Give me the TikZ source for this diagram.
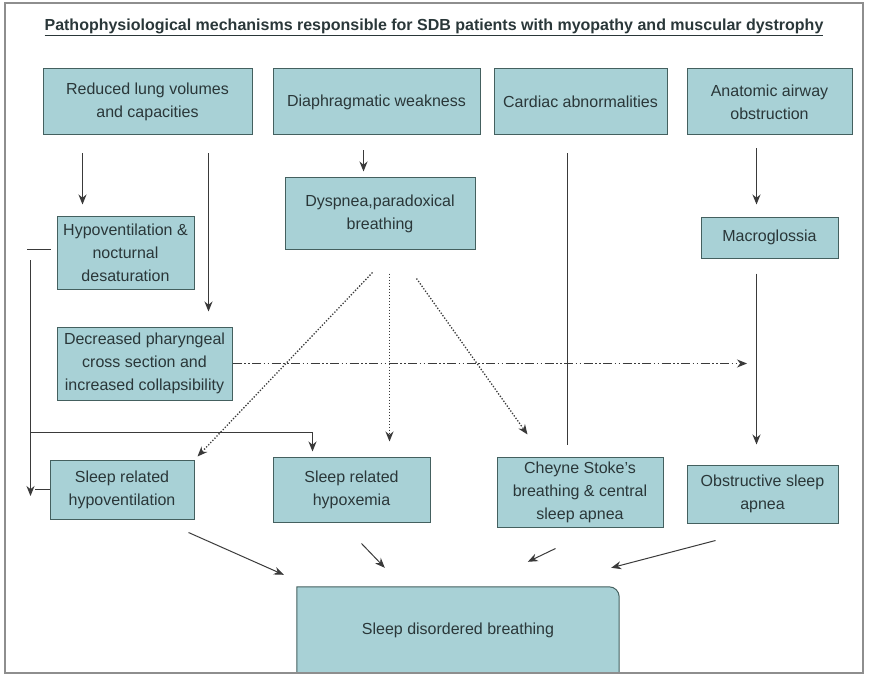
\documentclass[tikz,border=0pt]{standalone}
\usepackage{fontspec}
\setmainfont{Liberation Sans}
\usepackage{tikz}
\usetikzlibrary{arrows.meta,positioning,backgrounds}
\definecolor{boxfill}{HTML}{A8D1D6}
\definecolor{boxline}{HTML}{44605F}
\definecolor{inkline}{HTML}{3A3A3A}
\definecolor{boxtext}{HTML}{2A3739}
\definecolor{framegray}{HTML}{8E8E8E}

\begin{document}
\begin{tikzpicture}[
  x=1pt, y=-1pt,
  font=\fontsize{16}{23}\selectfont,
  box/.style={draw=boxline, fill=boxfill, line width=1pt, align=center,
              inner sep=0pt, text=boxtext},
  arrow/.style={-{Stealth[length=10pt,width=8pt]}, draw=inkline, line width=1pt},
  dotarrow/.style={arrow, line width=1.3pt, dash pattern=on 1.3pt off 1.7pt},
  dasharrow/.style={arrow, dash pattern=on 9pt off 2.5pt on 1.5pt off 2.5pt on 1.5pt off 2.5pt},
  link/.style={draw=inkline, line width=1pt}
]
\useasboundingbox (0,0) rectangle (873,674);

\node[text=boxtext, font=\fontsize{16}{19}\selectfont\bfseries] (title) at (434,27)
  {\underline{Pathophysiological mechanisms responsible for SDB patients with myopathy and muscular dystrophy}};

% causes
\node[box, minimum width=209pt, minimum height=66pt] (lung) at (147.5,102) {Reduced lung volumes\\and capacities};
\node[box, minimum width=207pt, minimum height=66pt] (diaph) at (376.5,102) {Diaphragmatic weakness};
\node[box, minimum width=173pt, minimum height=66pt] (cardiac) at (580.5,102) {Cardiac abnormalities};
\node[box, minimum width=165pt, minimum height=66pt] (airway) at (769.5,102) {Anatomic airway\\obstruction};

% intermediate effects
\node[box, minimum width=190pt, minimum height=71pt] (dyspnea) at (380,213.5) {Dyspnea,paradoxical\\breathing};
\node[box, minimum width=137pt, minimum height=73pt] (hypovent) at (125.5,252.5) {Hypoventilation \&\\nocturnal\\desaturation};
\node[box, minimum width=137pt, minimum height=41pt] (macro) at (769.5,237.5) {Macroglossia};
\node[box, minimum width=175pt, minimum height=73pt] (pharynx) at (144.5,363.5) {Decreased pharyngeal\\cross section and\\increased collapsibility};

% sleep disorders
\node[box, minimum width=144pt, minimum height=59pt] (slhypovent) at (122,489.5) {Sleep related\\hypoventilation};
\node[box, minimum width=157pt, minimum height=65pt] (slhypox) at (351.5,489.5) {Sleep related\\hypoxemia};
\node[box, minimum width=166pt, minimum height=70pt] (cheyne) at (580,492) {Cheyne Stoke's\\breathing \& central\\sleep apnea};
\node[box, minimum width=151pt, minimum height=58pt] (osa) at (762.5,494) {Obstructive sleep\\apnea};

\node[text=boxtext, minimum width=322pt, minimum height=86pt, inner sep=0pt] (sdb) at (458,630) {Sleep disordered breathing};
\begin{scope}[on background layer]
\draw[draw=boxline, fill=boxfill, line width=1pt] (sdb.south west) -- (sdb.north west)
  [rounded corners=10pt] -- (sdb.north east) [sharp corners] -- (sdb.south east) -- cycle;
\end{scope}

\coordinate (split) at (30.5,432.5);
\coordinate (leftrun) at (30.5,260);
\coordinate (osain) at (747,363.5);

\draw[arrow, shorten <=18pt, shorten >=11pt] ([xshift=40pt]lung.south west) -- ([xshift=26pt]hypovent.north west);
\draw[arrow, shorten <=18pt, shorten >=15pt] ([xshift=166pt]lung.south west) -- ([xshift=152pt]pharynx.north west);
\draw[arrow, shorten <=15pt, shorten >=6pt] ([xshift=91pt]diaph.south west) -- ([xshift=79pt]dyspnea.north west);
\draw[link, shorten <=18pt, shorten >=12pt] ([xshift=74pt]cardiac.south west) -- ([xshift=71pt]cheyne.north west);
\draw[arrow, shorten <=13pt, shorten >=12pt] ([xshift=70pt]airway.south west) -- ([xshift=56pt]macro.north west);
\draw[arrow, shorten <=15pt, shorten >=20pt] ([xshift=-13pt]macro.south) -- ([xshift=-6pt]osa.north);

\draw[dotarrow] ([shift={(88,23)}]dyspnea.south west) -- ([shift={(3,-3)}]slhypovent.north east);
\draw[dotarrow] ([shift={(105,24)}]dyspnea.south west) -- ([shift={(117,-15)}]slhypox.north west);
\draw[dotarrow] ([shift={(132,29)}]dyspnea.south west) -- ([shift={(31,-22)}]cheyne.north west);
\draw[dasharrow] (pharynx.east) -- (osain);

\draw[link] ([shift={(-6,-3)}]hypovent.west) -- ++(-24,0);
\draw[arrow] (leftrun) -- ([yshift=-6.5pt]leftrun |- slhypovent.west);
\draw[link] (slhypovent.west) -- ++(-15,0);
\draw[arrow, shorten >=5pt] (split) -| ([xshift=40pt]slhypox.north west);

\draw[arrow] ([shift={(-6,13)}]slhypovent.south east) -- ([shift={(-13,-12)}]sdb.north west);
\draw[arrow] ([shift={(89,21)}]slhypox.south west) -- ([shift={(88,-19)}]sdb.north west);
\draw[arrow] ([shift={(59,21)}]cheyne.south west) -- ([shift={(231,-25)}]sdb.north west);
\draw[arrow] ([shift={(29,17)}]osa.south west) -- ([shift={(-8,-19)}]sdb.north east);

\draw[framegray, line width=2pt] (5,3) rectangle (863,673);
\end{tikzpicture}
\end{document}
